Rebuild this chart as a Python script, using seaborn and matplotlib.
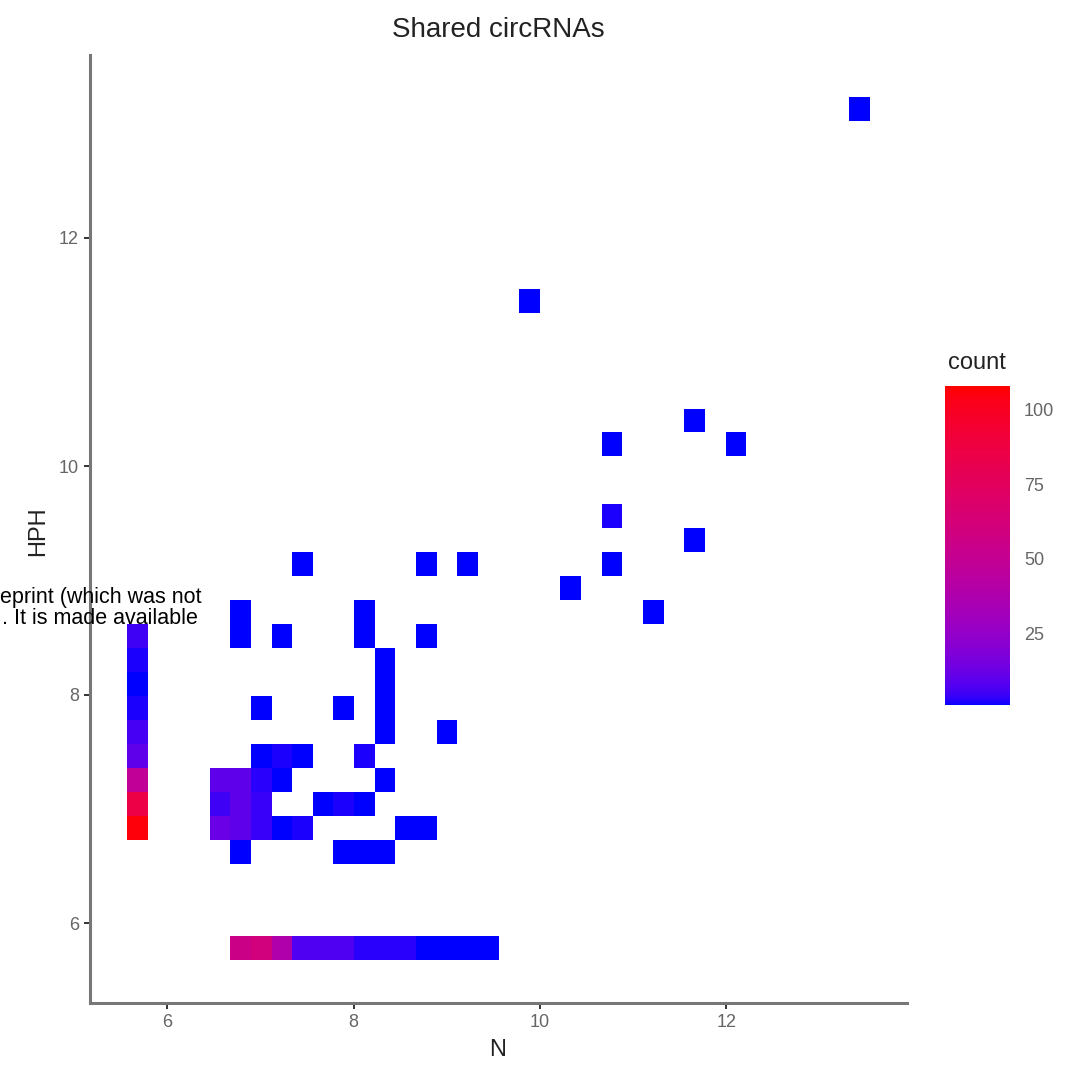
import numpy as np
import pandas as pd
import matplotlib
matplotlib.use('Agg')
import matplotlib.pyplot as plt
import seaborn as sns
from matplotlib.colors import ListedColormap

# bin centres (N, HPH) and counts

# left strip, N = 5.68
strip_hph = [6.83, 7.04, 7.25, 7.46, 7.67, 7.88, 8.09, 8.30, 8.51]
strip_count = [106, 86, 48, 10, 6, 2, 1, 2, 5]

# bottom strip, HPH = 5.78
base_n = [6.79, 7.01, 7.23, 7.45, 7.67, 7.89, 8.12, 8.34, 8.56, 8.78, 9.00, 9.22, 9.44]
base_count = [55, 60, 38, 7, 7, 7, 3, 3, 3, 1, 1, 1, 1]

# the main cloud
cloud_n = [6.79, 7.89, 8.12, 8.34,
           6.57, 6.79, 7.01, 7.23, 7.45, 8.56, 8.78,
           6.57, 6.79, 7.01, 7.67, 7.89, 8.12,
           6.57, 6.79, 7.01, 7.23, 8.34,
           7.01, 7.23, 7.45, 8.12,
           8.34, 9.00,
           7.01, 7.89, 8.34,
           8.34, 8.34,
           6.79, 7.23, 8.12, 8.78,
           6.79, 8.12, 11.22,
           10.33,
           7.45, 8.78, 9.22, 10.77,
           11.66, 10.77,
           10.77, 12.10, 11.66,
           9.89, 13.43]
cloud_hph = [6.62, 6.62, 6.62, 6.62,
             6.83, 6.83, 6.83, 6.83, 6.83, 6.83, 6.83,
             7.04, 7.04, 7.04, 7.04, 7.04, 7.04,
             7.25, 7.25, 7.25, 7.25, 7.25,
             7.46, 7.46, 7.46, 7.46,
             7.67, 7.67,
             7.88, 7.88, 7.88,
             8.09, 8.30,
             8.51, 8.51, 8.51, 8.51,
             8.72, 8.72, 8.72,
             8.93,
             9.14, 9.14, 9.14, 9.14,
             9.35, 9.56,
             10.19, 10.19, 10.40,
             11.45, 13.13]
cloud_count = [1, 1, 1, 1,
               12, 10, 4, 1, 2, 1, 1,
               5, 10, 4, 1, 2, 1,
               10, 10, 3, 1, 1,
               1, 2, 1, 2,
               1, 1,
               1, 1, 1,
               1, 1,
               1, 1, 1, 1,
               1, 1, 1,
               1,
               1, 1, 1, 1,
               1, 2,
               1, 1, 1,
               1, 1]

df = pd.concat([
    pd.DataFrame({'N': [5.68] * len(strip_hph), 'HPH': strip_hph, 'count': strip_count}),
    pd.DataFrame({'N': base_n, 'HPH': [5.78] * len(base_n), 'count': base_count}),
    pd.DataFrame({'N': cloud_n, 'HPH': cloud_hph, 'count': cloud_count}),
], ignore_index=True)


# blue -> red ramp interpolated in CIELAB, like ggplot's scale_fill_gradient
M = np.array([[0.4124, 0.3576, 0.1805],
              [0.2126, 0.7152, 0.0722],
              [0.0193, 0.1192, 0.9505]])
WHITE = np.array([0.95047, 1.0, 1.08883])


def to_lab(rgb):
    c = np.asarray(rgb, float)
    lin = np.where(c <= 0.04045, c / 12.92, ((c + 0.055) / 1.055) ** 2.4)
    xyz = M @ lin / WHITE
    f = np.where(xyz > 0.008856, np.cbrt(xyz), 7.787 * xyz + 16 / 116)
    return np.array([116 * f[1] - 16, 500 * (f[0] - f[1]), 200 * (f[1] - f[2])])


def from_lab(lab):
    L, a, b = lab
    fy = (L + 16) / 116
    f = np.array([fy + a / 500, fy, fy - b / 200])
    xyz = np.where(f ** 3 > 0.008856, f ** 3, (f - 16 / 116) / 7.787) * WHITE
    lin = np.clip(np.linalg.solve(M, xyz), 0, 1)
    c = np.where(lin <= 0.0031308, 12.92 * lin, 1.055 * lin ** (1 / 2.4) - 0.055)
    return np.clip(c, 0, 1)


lo, hi = to_lab([0, 0, 1]), to_lab([1, 0, 0])
cmap = ListedColormap([from_lab(lo + t * (hi - lo)) for t in np.linspace(0, 1, 256)])

sns.set_style('white')
plt.rcParams['font.family'] = ['Liberation Sans', 'DejaVu Sans']

fig = plt.figure(figsize=(10.82, 10.69), dpi=100)
ax = fig.add_axes([0.0832, 0.0617, 0.7551, 0.8869])
cax = fig.add_axes([0.8734, 0.3405, 0.0601, 0.2984])

sns.histplot(data=df, x='N', y='HPH', weights='count',
             binwidth=(0.2215, 0.2099),
             binrange=((5.568, 13.54), (5.677, 13.23)),
             cmap=cmap, vmin=1, vmax=108,
             cbar=True, cbar_ax=cax, ax=ax)

ax.set_xlim(5.17, 13.94)
ax.set_ylim(5.30, 13.60)
ax.set_xticks([6, 8, 10, 12])
ax.set_yticks([6, 8, 10, 12])
ax.set_xlabel('')
ax.set_ylabel('')
for side in ['top', 'right']:
    ax.spines[side].set_visible(False)
for side in ['left', 'bottom']:
    ax.spines[side].set_color('#777777')
    ax.spines[side].set_linewidth(2.2)
ax.tick_params(bottom=True, left=True, direction='out', length=4, width=1.4,
               color='#333333', labelsize=13, labelcolor='#666666', pad=4)

# colour bar, ggplot style
cbar = ax.collections[0].colorbar
cbar.outline.set_visible(False)
cbar.set_ticks([25, 50, 75, 100])
cax.yaxis.set_ticks_position('both')
cax.tick_params(direction='in', length=9, width=1.2, color='white',
                labelsize=13, labelcolor='#666666',
                labelleft=False, labelright=True, pad=10)

fig.text(0.876, 1 - 363 / 1069, 'count', fontsize=17, color='#222222',
         ha='left', va='center')
fig.text(0.4603, 1 - 30 / 1069, 'Shared circRNAs', fontsize=20,
         color='#222222', ha='center', va='center')
fig.text(0.4603, 1 - 1050 / 1069, 'N', fontsize=17, color='#222222',
         ha='center', va='center')
fig.text(0.0351, 1 - 531 / 1069, 'HPH', fontsize=17, color='#222222',
         ha='center', va='center', rotation=90)

# bioRxiv stamp bleeding in from the left edge
fig.text(0.0, 1 - 598 / 1069, 'eprint (which was not', fontsize=15.5,
         color='black', ha='left', va='center')
fig.text(0.002, 1 - 618 / 1069, '. It is made available', fontsize=15.5,
         color='black', ha='left', va='center')

fig.savefig('out.png', dpi=100)
